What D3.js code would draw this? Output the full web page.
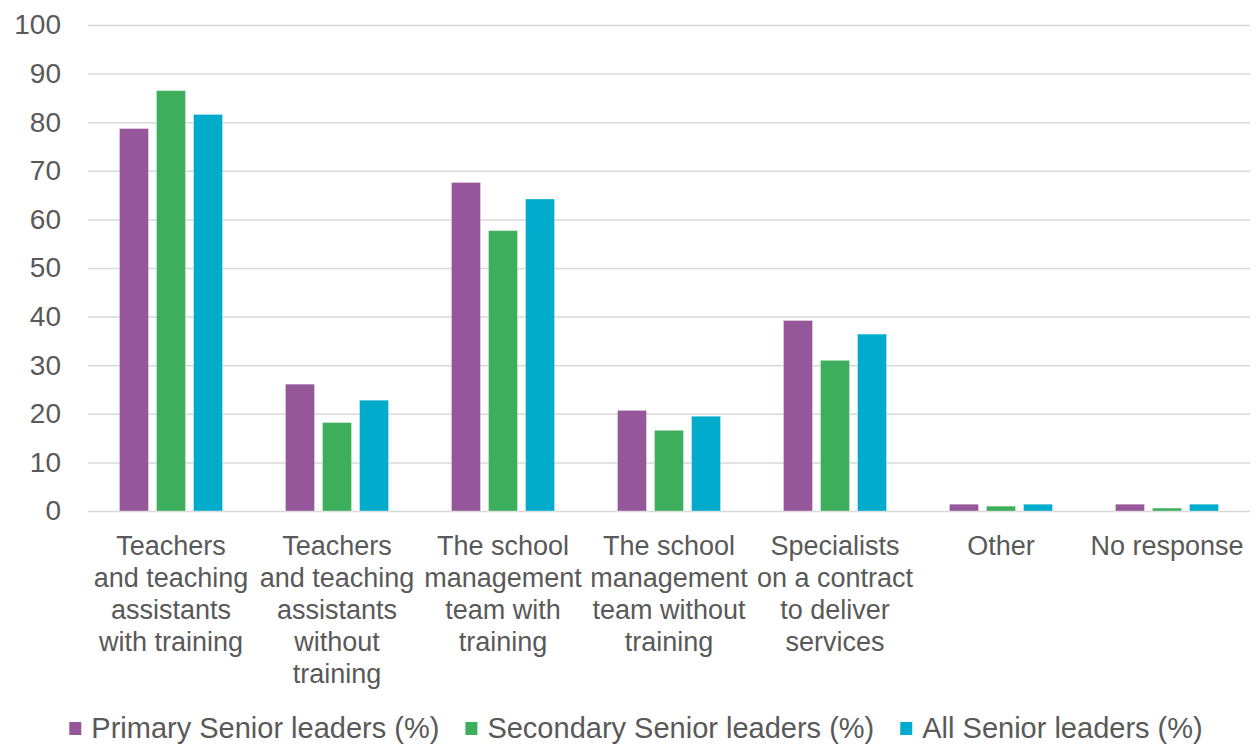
<!DOCTYPE html>
<html>
<head>
<meta charset="utf-8">
<script src="https://cdn.jsdelivr.net/npm/d3@7"></script>
<style>
  body { margin: 0; background: #fff; }
  svg { display: block; font-family: "Liberation Sans", Arial, sans-serif; }
  .tick text, .cat text, .legend text { fill: #595959; }
</style>
</head>
<body>
<svg width="1257" height="745"></svg>
<script>
var categories = [
    ["Teachers", "and teaching", "assistants", "with training"],
    ["Teachers", "and teaching", "assistants", "without", "training"],
    ["The school", "management", "team with", "training"],
    ["The school", "management", "team without", "training"],
    ["Specialists", "on a contract", "to deliver", "services"],
    ["Other"],
    ["No response"]
];
var series = ["Primary Senior leaders (%)", "Secondary Senior leaders (%)", "All Senior leaders (%)"];
var primary   = [78.7, 26.1, 67.6, 20.7, 39.2, 1.4, 1.4];
var secondary = [86.5, 18.2, 57.7, 16.6, 31.0, 1.0, 0.6];
var all       = [81.6, 22.8, 64.2, 19.5, 36.4, 1.4, 1.4];
var yTicks = [0, 10, 20, 30, 40, 50, 60, 70, 80, 90, 100];
var colors = ["#955799", "#3dae5b", "#00abcb"];

var values = [primary, secondary, all];
var catIndex = d3.range(categories.length);

var svg = d3.select("svg");
var plotLeft = 88, plotRight = 1250, plotTop = 25, plotBottom = 511;

var x0 = d3.scaleBand()
    .domain(catIndex)
    .range([plotLeft, plotRight]);
var x1 = d3.scaleBand()
    .domain(d3.range(series.length))
    .range([0, x0.bandwidth()])
    .paddingInner(0.216)
    .paddingOuter(0.85);
var y = d3.scaleLinear()
    .domain([0, 100])
    .range([plotBottom, plotTop]);

// grid
var grid = svg.append("g")
    .attr("transform", "translate(" + plotLeft + ",0)")
    .call(d3.axisLeft(y)
        .tickValues(yTicks)
        .tickSize(-(plotRight - plotLeft))
        .tickPadding(27));
grid.select(".domain").remove();
grid.selectAll(".tick line")
    .attr("stroke", "#d9d9d9")
    .attr("stroke-width", 1.5);
grid.selectAll(".tick text")
    .attr("font-size", 28)
    .attr("font-family", "Liberation Sans, Arial, sans-serif");

// bars
var groups = svg.append("g")
    .selectAll("g")
    .data(catIndex)
    .enter().append("g")
    .attr("transform", function(d) { return "translate(" + x0(d) + ",0)"; });

groups.selectAll("rect")
    .data(function(c) { return values.map(function(v, s) { return {s: s, v: v[c]}; }); })
    .enter().append("rect")
    .attr("x", function(d) { return x1(d.s); })
    .attr("width", x1.bandwidth())
    .attr("y", function(d) { return y(d.v); })
    .attr("height", function(d) { return plotBottom - y(d.v); })
    .attr("fill", function(d) { return colors[d.s]; })
    .attr("stroke", "rgba(255,255,255,0.35)")
    .attr("stroke-width", 1);

// category labels
var cat = svg.append("g").attr("class", "cat")
    .selectAll("text")
    .data(catIndex)
    .enter().append("text")
    .attr("text-anchor", "middle")
    .attr("font-size", 27)
    .attr("x", function(d) { return x0(d) + x0.bandwidth() / 2; })
    .attr("y", 555);
cat.selectAll("tspan")
    .data(function(d) { return categories[d]; })
    .enter().append("tspan")
    .attr("x", function() { return d3.select(this.parentNode).attr("x"); })
    .attr("dy", function(d, i) { return i === 0 ? 0 : 32; })
    .text(function(d) { return d; });

// legend
var legend = svg.append("g").attr("class", "legend");
var items = legend.selectAll("g")
    .data(series)
    .enter().append("g");
items.append("rect")
    .attr("width", 12)
    .attr("height", 13)
    .attr("y", 722)
    .attr("fill", function(d, i) { return colors[i]; });
items.append("text")
    .attr("x", 22)
    .attr("y", 738)
    .attr("font-size", 29)
    .text(function(d) { return d; });

var pos = 0, gap = 26, widths = [];
items.each(function() {
    var w = 22 + d3.select(this).select("text").node().getComputedTextLength();
    widths.push(w);
});
var total = d3.sum(widths) + gap * (widths.length - 1);
var start = 636 - total / 2;
items.attr("transform", function(d, i) {
    var t = "translate(" + (start + pos) + ",0)";
    pos += widths[i] + gap;
    return t;
});
</script>
</body>
</html>
